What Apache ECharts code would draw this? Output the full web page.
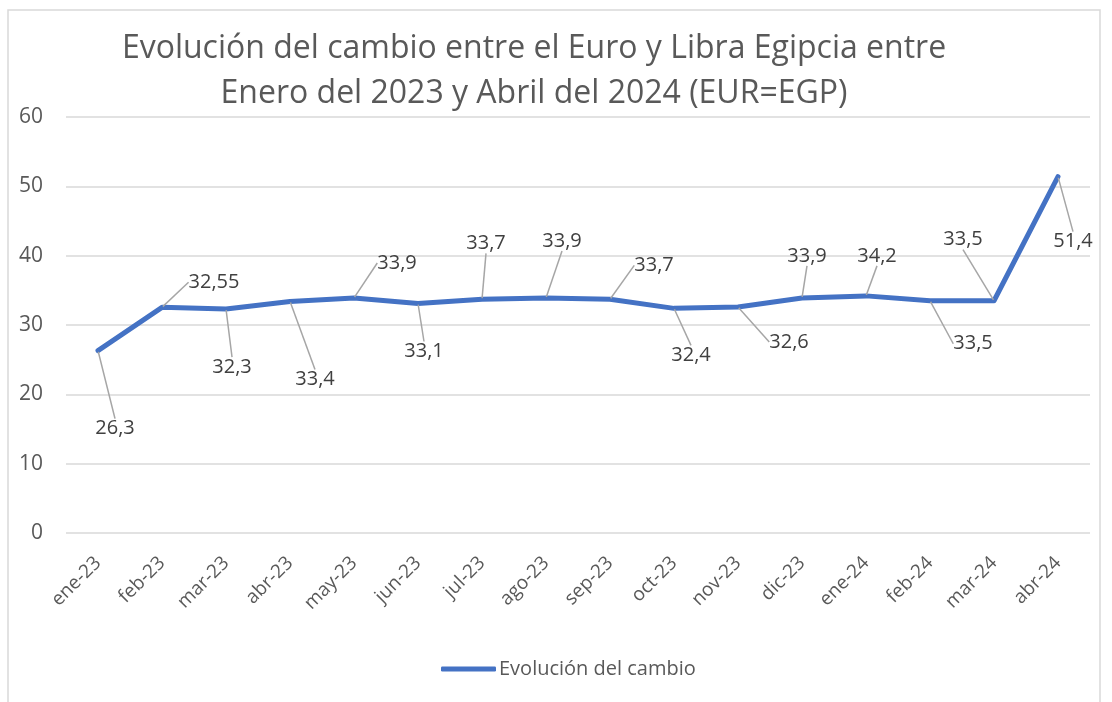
<!DOCTYPE html>
<html>
<head>
<meta charset="utf-8">
<script src="https://cdn.jsdelivr.net/npm/echarts@6/dist/echarts.min.js"></script>
<style>
  html, body { margin: 0; padding: 0; background: #fff; }
  #main { width: 1112px; height: 702px; }
</style>
</head>
<body>
<div id="main"></div>
<script>
var categories = ['ene-23', 'feb-23', 'mar-23', 'abr-23', 'may-23', 'jun-23', 'jul-23', 'ago-23',
    'sep-23', 'oct-23', 'nov-23', 'dic-23', 'ene-24', 'feb-24', 'mar-24', 'abr-24'];
var cambio = [26.3, 32.55, 32.3, 33.4, 33.9, 33.1, 33.7, 33.9, 33.7, 32.4, 32.6, 33.9, 34.2, 33.5, 33.5, 51.4];
var yTicks = [0, 10, 20, 30, 40, 50, 60];
var serieName = 'Evolución del cambio';
var titulo = 'Evolución del cambio entre el Euro y Libra Egipcia entre\nEnero del 2023 y Abril del 2024 (EUR=EGP)';

// where each data label was dragged to in the original (px from its point)
var labelOffsets = [[17, 78], [52, -25], [6, 58], [25, 78], [43, -35], [6, 48], [4, -56], [16, -57],
    [44, -34], [17, 47], [51, 35], [5, -42], [11, -40], [43, 43], [-31, -61], [15, 65]];

var font = 'Open Sans';
var dom = document.getElementById('main');
var myChart = echarts.init(dom);

var option = {
    animation: false,
    textStyle: { fontFamily: font },
    graphic: [{
        type: 'rect',
        shape: { x: 8, y: 10, width: 1092, height: 720 },
        style: { fill: 'none', stroke: '#d9d9d9', lineWidth: 1.5 },
        silent: true
    }],
    title: {
        text: titulo,
        left: 529,
        top: 21,
        textAlign: 'center',
        textStyle: { fontFamily: font, fontSize: 32, fontWeight: 'normal', color: '#595959', lineHeight: 45 }
    },
    legend: {
        data: [serieName],
        left: 436,
        top: 654,
        icon: 'roundRect',
        itemWidth: 55,
        itemHeight: 5,
        textStyle: { fontFamily: font, fontSize: 20, color: '#595959', padding: [0, 0, 0, -2] }
    },
    grid: { left: 66, right: 22, top: 117, bottom: 169, containLabel: false },
    xAxis: {
        type: 'category',
        data: categories,
        boundaryGap: true,
        axisLine: { show: false },
        axisTick: { show: false },
        axisLabel: { rotate: 45, margin: 27, fontSize: 19, color: '#595959', fontFamily: font, interval: 0 }
    },
    yAxis: {
        type: 'value',
        min: yTicks[0],
        max: yTicks[yTicks.length - 1],
        interval: 10,
        axisLine: { show: false },
        axisTick: { show: false },
        splitLine: { lineStyle: { color: '#d9d9d9', width: 1.5 } },
        axisLabel: { margin: 23, fontSize: 21, color: '#595959', fontFamily: font }
    },
    series: [{
        name: serieName,
        type: 'line',
        data: cambio,
        symbol: 'circle',
        symbolSize: 2,
        itemStyle: { color: '#4472C4' },
        lineStyle: { color: '#4472C4', width: 5, cap: 'round', join: 'round' },
        label: {
            show: true,
            position: 'inside',
            fontFamily: font,
            fontSize: 20,
            color: '#404040',
            formatter: function (p) {
                return String(p.value).replace('.', ',');
            }
        },
        labelLine: { show: true, lineStyle: { color: '#a6a6a6', width: 1.5 } },
        labelLayout: function (params) {
            var off = labelOffsets[params.dataIndex];
            return { dx: off[0], dy: off[1] };
        }
    }]
};

if (option && typeof option === 'object') {
    myChart.setOption(option, true);
}
window.onresize = function () {
    myChart.resize();
};
</script>
</body>
</html>
